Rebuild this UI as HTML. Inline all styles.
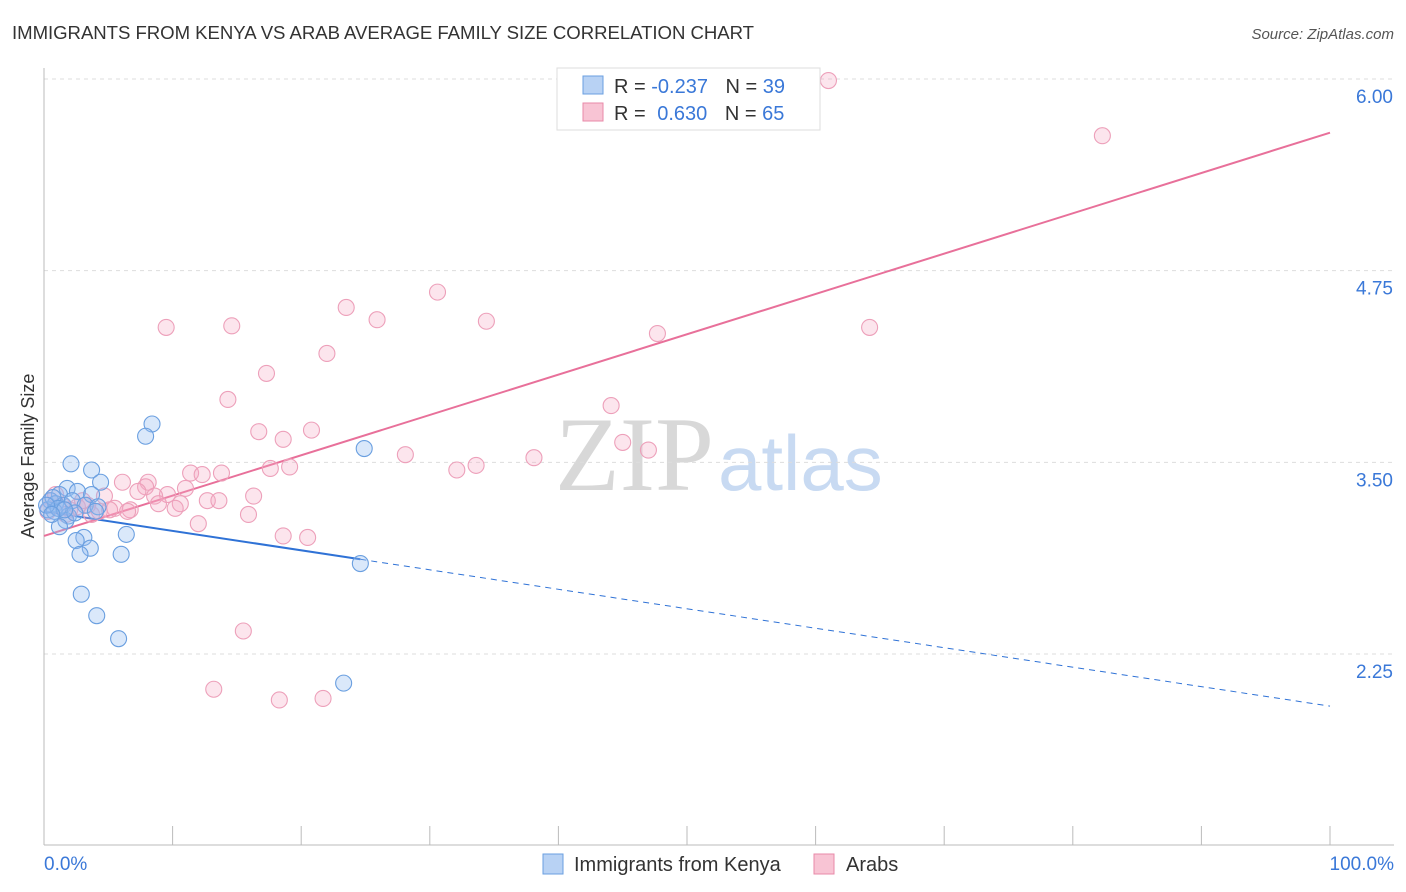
<!DOCTYPE html>
<html><head><meta charset="utf-8"><style>
body{margin:0;background:#fff;font-family:"Liberation Sans",sans-serif;}
svg{display:block}
</style></head><body>
<svg id="chart" width="1406" height="892">
<text x="12" y="39" font-size="18.6" fill="#333" textLength="742">IMMIGRANTS FROM KENYA VS ARAB AVERAGE FAMILY SIZE CORRELATION CHART</text>
<text x="1394" y="39" font-size="15" fill="#555" font-style="italic" text-anchor="end">Source: ZipAtlas.com</text>
<text x="714" y="490" font-size="106" fill="#d8d8d8" text-anchor="end" font-family="Liberation Serif,serif">ZIP</text>
<text x="718" y="490" font-size="78" fill="#c8daf2">atlas</text>
<text transform="translate(34,456) rotate(-90)" font-size="18" fill="#333" text-anchor="middle">Average Family Size</text>
<g id="grid"></g><g id="axes"></g><g id="trends"></g><g id="pts"></g>
<g>
<rect x="557" y="68" width="263" height="62" fill="#fff" stroke="#ddd"/>
<rect x="583" y="76" width="20" height="18" fill="#b8d2f4" stroke="#6a9fe0"/>
<text x="614" y="93" font-size="20" fill="#333">R = <tspan fill="#3a78d8">-0.237</tspan>  <tspan dx="12">N = </tspan><tspan fill="#3a78d8">39</tspan></text>
<rect x="583" y="103" width="20" height="18" fill="#f8c4d4" stroke="#e88aa8"/>
<text x="614" y="120" font-size="20" fill="#333">R =  <tspan fill="#3a78d8" dx="6">0.630</tspan>  <tspan dx="12">N = </tspan><tspan fill="#3a78d8">65</tspan></text>
</g>
<g>
<rect x="543" y="854" width="20" height="20" fill="#b8d2f4" stroke="#6a9fe0"/>
<text x="574" y="871" font-size="20" fill="#333">Immigrants from Kenya</text>
<rect x="814" y="854" width="20" height="20" fill="#f8c4d4" stroke="#e88aa8"/>
<text x="846" y="871" font-size="20" fill="#333">Arabs</text>
</g>
</svg>
<script>
const yTicks=[2.25,3.5,4.75,6.0];
const yTickLabels=["2.25","3.50","4.75","6.00"];
const xTickCount=10;
const blueX=[8.4,7.9,24.9,2.1,3.7,4.4,1.8,2.6,3.7,1.2,0.5,0.9,1.5,2.2,3.2,4.2,0.3,0.8,1.9,1.7,1.2,6.4,3.1,2.5,3.6,2.8,6.0,24.6,2.9,4.1,5.8,23.3,0.7,1.1,2.4,4.0,1.6,0.2,0.6];
const blueY=[3.75,3.67,3.59,3.49,3.45,3.37,3.33,3.31,3.29,3.29,3.25,3.23,3.22,3.25,3.22,3.21,3.19,3.18,3.15,3.12,3.08,3.03,3.01,2.99,2.94,2.90,2.90,2.84,2.64,2.50,2.35,2.06,3.27,3.20,3.17,3.18,3.19,3.22,3.16];
const pinkX=[61.0,82.3,30.6,23.5,25.9,34.4,9.5,14.6,47.7,64.2,22.0,17.3,14.3,44.1,20.8,16.7,18.6,45.0,47.0,28.1,38.1,33.6,32.1,19.1,17.6,11.4,12.3,13.8,6.1,8.1,7.9,11.0,7.3,9.6,8.6,4.7,16.3,12.7,13.6,10.6,8.9,5.5,6.7,4.3,15.9,12.0,18.6,20.5,15.5,13.2,18.3,21.7,1.4,2.0,0.5,0.3,2.6,3.4,0.9,3.7,6.5,10.2,5.1,1.7,3.0];
const pinkY=[5.99,5.63,4.61,4.51,4.43,4.42,4.38,4.39,4.34,4.38,4.21,4.08,3.91,3.87,3.71,3.70,3.65,3.63,3.58,3.55,3.53,3.48,3.45,3.47,3.46,3.43,3.42,3.43,3.37,3.37,3.34,3.33,3.31,3.29,3.28,3.28,3.28,3.25,3.25,3.23,3.23,3.20,3.19,3.18,3.16,3.10,3.02,3.01,2.40,2.02,1.95,1.96,3.22,3.19,3.25,3.18,3.21,3.22,3.29,3.16,3.18,3.20,3.19,3.16,3.25];
const blueTrend=[3.18,1.91]; const blueSolidEnd=24.6;
const pinkTrend=[3.02,5.65];
const NS="http://www.w3.org/2000/svg";
const X=v=>44+v/100*1286;
const Y=v=>79+(6-v)*153.33;
function mk(tag,attrs,parent){const e=document.createElementNS(NS,tag);for(const k in attrs)e.setAttribute(k,attrs[k]);document.getElementById(parent).appendChild(e);return e;}
yTicks.forEach((t,i)=>{
 const g=mk('line',{x1:44,x2:1394,y1:Y(t),y2:Y(t),stroke:'#ddd','stroke-dasharray':'4,4'},'grid');
 
 
 const l=mk('text',{x:1393,y:Y(t)+24,'font-size':19,fill:'#3a78d8','text-anchor':'end'},'grid');
 l.textContent=yTickLabels[i];
 
 
});
const ax=mk('line',{x1:44,x2:1394,y1:845,y2:845,stroke:'#bbb'},'axes');


const ay=mk('line',{x1:44,x2:44,y1:68,y2:845,stroke:'#bbb'},'axes');


for(let i=0;i<=xTickCount;i++){
 const t=mk('line',{x1:X(i*10),x2:X(i*10),y1:826,y2:845,stroke:'#bbb'},'axes');
 
 
}
const xl0=mk('text',{x:44,y:870,'font-size':19,fill:'#3a78d8'},'axes');xl0.textContent='0.0%';


const xl1=mk('text',{x:1394,y:870,'font-size':19,fill:'#3a78d8','text-anchor':'end'},'axes');xl1.textContent='100.0%';


pinkX.forEach((x,i)=>{
 const c=mk('circle',{cx:X(x),cy:Y(pinkY[i]),r:8,fill:'rgba(244,170,195,0.3)',stroke:'#eda0ba','stroke-width':1.1},'pts');
 
 
});
blueX.forEach((x,i)=>{
 const c=mk('circle',{cx:X(x),cy:Y(blueY[i]),r:8,fill:'rgba(150,190,240,0.35)',stroke:'#6a9fe0','stroke-width':1.1},'pts');
 
 
});
const bY=x=>blueTrend[0]+(blueTrend[1]-blueTrend[0])*x/100;
const b1=mk('line',{x1:X(0),y1:Y(bY(0)),x2:X(blueSolidEnd),y2:Y(bY(blueSolidEnd)),stroke:'#2f72d6','stroke-width':2},'trends');


const b2=mk('line',{x1:X(blueSolidEnd),y1:Y(bY(blueSolidEnd)),x2:X(100),y2:Y(bY(100)),stroke:'#2f72d6','stroke-width':1,'stroke-dasharray':'6,5'},'trends');


const p1=mk('line',{x1:X(0),y1:Y(pinkTrend[0]),x2:X(100),y2:Y(pinkTrend[1]),stroke:'#e8709a','stroke-width':2},'trends');


</script>
</body></html>
